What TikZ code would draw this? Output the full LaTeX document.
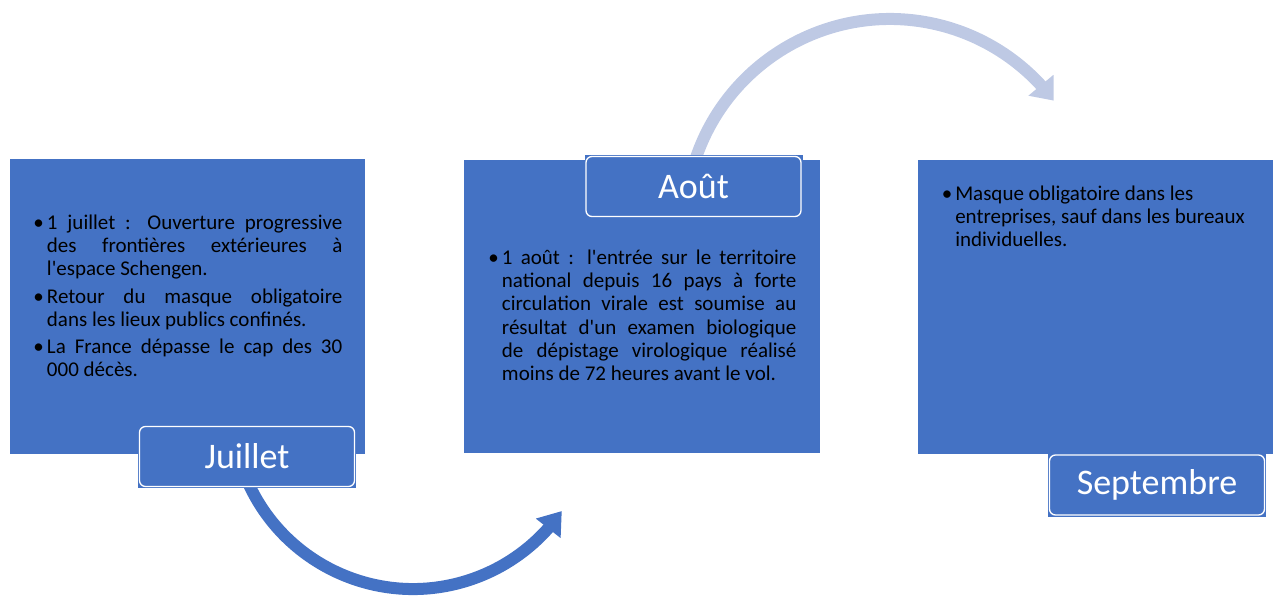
\documentclass[tikz,border=0pt]{standalone}
\usepackage{fontspec}
\setmainfont{Carlito}
\newfontfamily\calib{Carlito}
\usetikzlibrary{arrows.meta,bending}
\definecolor{boxblue}{HTML}{4472C4}
\definecolor{arcdark}{HTML}{4472C4}
\definecolor{arclight}{RGB}{190,201,228}
\newcommand\bitem[2]{\noindent\makebox[10.125pt][l]{\textbullet}\parbox[t]{#1}{\spaceskip=0pt\xspaceskip=0pt\relax #2}\par}
\newcommand\bodysetup{\calib\fontsize{15.75pt}{17.25pt}\selectfont\tolerance=9999\emergencystretch=10pt\hbadness=10000\hyphenpenalty=10000\exhyphenpenalty=10000}
\begin{document}
\begin{tikzpicture}[x=0.75pt,y=0.75pt,
  panel/.style={fill=boxblue, draw=none, inner sep=0pt},
  body/.style={inner sep=0pt, anchor=base west, text width=231pt, align=justify, font=\bodysetup, text=black},
  labbg/.style={fill=boxblue, draw=none, inner sep=0pt, minimum width=163.5pt, minimum height=47.25pt},
  labfg/.style={fill=boxblue, draw=white, line width=1pt, rounded corners=4.5pt, inner sep=0pt, minimum width=161.25pt, minimum height=45pt, text=white, font=\calib\fontsize{27pt}{30pt}\selectfont},
  darkarc/.style={draw=arcdark, line width=9pt, -{Triangle[length=16.5pt, width=22.5pt, flex]}},
  lightarc/.style={draw=arclight, line width=9pt, -{Triangle[length=15pt, width=23.5pt, flex]}}]
\useasboundingbox (0,0) rectangle (1273,-596);
% arcs (behind)
\coordinate (c1) at (413,-408);
\coordinate (c2) at (890,-224);
\draw[darkarc] (c1) ++(200:181) arc[start angle=200, end angle=325.3, radius=135.75pt];
\draw[lightarc] (c2) ++(166:205) arc[start angle=166, end angle=37, radius=153.75pt];
% panels
\node[panel, minimum width=266.25pt, minimum height=221.25pt] (p1) at (187.5,-306.5) {};
\node[panel, minimum width=267pt, minimum height=219.75pt] (p2) at (642,-306.5) {};
\node[panel, minimum width=266.25pt, minimum height=220.5pt] (p3) at (1095.5,-307) {};
% body texts
\node[body, text width=231.6pt] (t1) at (33.2,-229) {%
\bitem{221.5pt}{1 juillet : Ouverture progressive\linebreak des frontières extérieures à\linebreak l'espace Schengen.}\vskip6.4pt
\bitem{221.5pt}{Retour du masque obligatoire\linebreak dans les lieux publics confinés.}\vskip6.4pt
\bitem{221.5pt}{La France dépasse le cap des 30\linebreak 000 décès.}};
\node[body, text width=230.9pt, font=\bodysetup\fontsize{15.75pt}{17.5pt}\selectfont] (t2) at (488.2,-264) {%
\bitem{220.8pt}{1 août : l'entrée sur le territoire\linebreak national depuis 16 pays à forte\linebreak circulation virale est soumise au\linebreak résultat d'un examen biologique\linebreak de dépistage virologique réalisé\linebreak moins de 72 heures avant le vol.}};
\node[body, text width=240pt] (t3) at (941.5,-200) {%
\bitem{230pt}{\raggedright Masque obligatoire dans les\newline entreprises, sauf dans les bureaux\newline individuelles.}};
% labels
\node[labbg] (l1bg) at (247,-456.5) {};
\node[labfg] (l1) at (l1bg) {Juillet};
\node[labbg] (l2bg) at (693.5,-186.5) {};
\node[labfg] (l2) at (l2bg) {Août};
\node[labbg] (l3bg) at (1157,-485) {};
\node[labfg] (l3) at (l3bg) {Septembre};
\end{tikzpicture}
\end{document}
